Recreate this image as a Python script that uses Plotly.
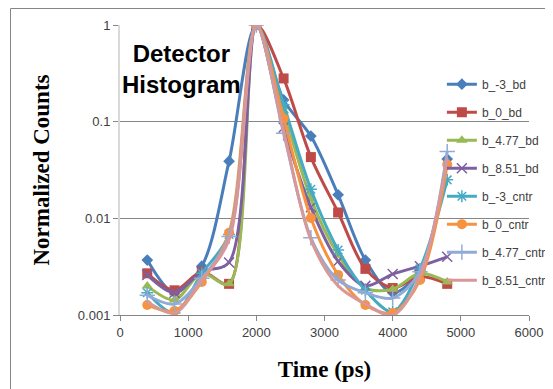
import plotly.graph_objects as go

time_ps = [400, 800, 1200, 1600, 2000, 2400, 2800, 3200, 3600, 4000, 4400, 4800]

series_names = ["b_-3_bd", "b_0_bd", "b_4.77_bd", "b_8.51_bd",
                "b_-3_cntr", "b_0_cntr", "b_4.77_cntr", "b_8.51_cntr"]

b_m3_bd = [0.0037, 0.0017, 0.0032, 0.039, 1.0, 0.168, 0.071, 0.0175, 0.0037, 0.0017, 0.0029, 0.041]
b_0_bd = [0.0027, 0.0018, 0.0028, 0.0021, 1.0, 0.28, 0.043, 0.0115, 0.0030, 0.0019, 0.0025, 0.0021]
b_477_bd = [0.0020, 0.00143, 0.0027, 0.0021, 1.0, 0.13, 0.016, 0.0042, 0.0019, 0.00185, 0.0027, 0.0022]
b_851_bd = [0.0026, 0.0017, 0.0028, 0.0035, 1.0, 0.087, 0.013, 0.0036, 0.0020, 0.00265, 0.0032, 0.0040]
b_m3_cntr = [0.0017, 0.00105, 0.0027, 0.0068, 1.0, 0.15, 0.020, 0.0047, 0.0018, 0.00108, 0.0030, 0.025]
b_0_cntr = [0.00127, 0.0011, 0.0022, 0.0071, 1.0, 0.108, 0.0101, 0.0026, 0.00127, 0.00105, 0.0023, 0.036]
b_477_cntr = [0.0016, 0.0013, 0.0024, 0.0065, 1.0, 0.076, 0.0063, 0.0023, 0.0017, 0.0015, 0.0028, 0.049]
b_851_cntr = [0.00137, 0.00105, 0.0023, 0.0060, 1.0, 0.080, 0.0060, 0.0020, 0.0013, 0.0010, 0.0025, 0.042]

all_series = [b_m3_bd, b_0_bd, b_477_bd, b_851_bd, b_m3_cntr, b_0_cntr, b_477_cntr, b_851_cntr]

colors = ["#4A7EBB", "#BE4B48", "#98B954", "#7D60A0", "#46AAC5", "#F69240", "#92ABD6", "#D99795"]
symbols = ["diamond", "square", "triangle-up", "x-thin", "asterisk", "circle", "cross-thin", "line-ew"]
sizes = [9, 10, 10, 10, 10, 10, 11, 1]

y_ticks = [0.001, 0.01, 0.1, 1]
y_tick_labels = ["0.001", "0.01", "0.1", "1"]

# page has an 8px body margin: figure starts at (8, 8) in the window
L, T, W, H = 112, 17, 409, 290
FIG_W, FIG_H = 545, 381

fig = go.Figure()
for i, (name, vals) in enumerate(zip(series_names, all_series)):
    thin = symbols[i] in ("x-thin", "asterisk", "cross-thin")
    fig.add_trace(go.Scatter(
        x=time_ps, y=vals, name=name,
        mode="lines+markers" if i < 7 else "lines",
        line=dict(color=colors[i], width=3, shape="spline", smoothing=0.9),
        marker=dict(symbol=symbols[i], size=sizes[i], color=colors[i],
                    line=dict(color=colors[i], width=1.5 if thin else 0)),
        legendgroup=name,
    ))

fig.update_layout(
    width=FIG_W, height=FIG_H,
    margin=dict(l=L, r=FIG_W - L - W, t=T, b=FIG_H - T - H, autoexpand=False),
    paper_bgcolor="white", plot_bgcolor="white",
    font=dict(family="Liberation Sans", size=12, color="#404040"),
    showlegend=True,
    legend=dict(x=0.787, y=0.846, xanchor="left", yanchor="top",
                bgcolor="rgba(0,0,0,0)", font=dict(size=12, color="#404040"),
                tracegroupgap=9, itemwidth=30),
    xaxis=dict(range=[0, 6000], dtick=1000, tick0=0, showgrid=False,
               showline=True, linecolor="#868686", linewidth=1,
               ticks="outside", ticklen=5, tickcolor="#868686",
               zeroline=False, tickfont=dict(size=13, color="#404040"),
               automargin=False,
               title=dict(text="<b>Time (ps)</b>", standoff=22,
                          font=dict(family="Liberation Serif", size=23, color="black"))),
    yaxis=dict(type="log", range=[-3, 0], tickvals=y_ticks, ticktext=y_tick_labels,
               showgrid=True, gridcolor="#868686", gridwidth=1,
               showline=True, linecolor="#D9D9D9", linewidth=2,
               ticks="outside", ticklen=5, tickcolor="#868686",
               zeroline=False, tickfont=dict(size=13, color="#404040"),
               automargin=False,
               title=dict(text="<b>Normalized Counts</b>", standoff=22,
                          font=dict(family="Liberation Serif", size=23, color="black"))),
)

fig.add_annotation(text="<b>Detector<br>Histogram</b>", xref="paper", yref="paper",
                   x=0.15, y=0.85, xanchor="center", yanchor="middle",
                   showarrow=False, align="center",
                   font=dict(family="Liberation Sans", size=24, color="black"))

fig.add_shape(type="rect", xref="paper", yref="paper",
              x0=(2.5 - L) / W, x1=(600 - L) / W,
              y0=(T + H - 420) / H, y1=(T + H - 0.5) / H,
              line=dict(color="#868686", width=1), fillcolor="rgba(0,0,0,0)", layer="below")

fig.write_html("out.html")
